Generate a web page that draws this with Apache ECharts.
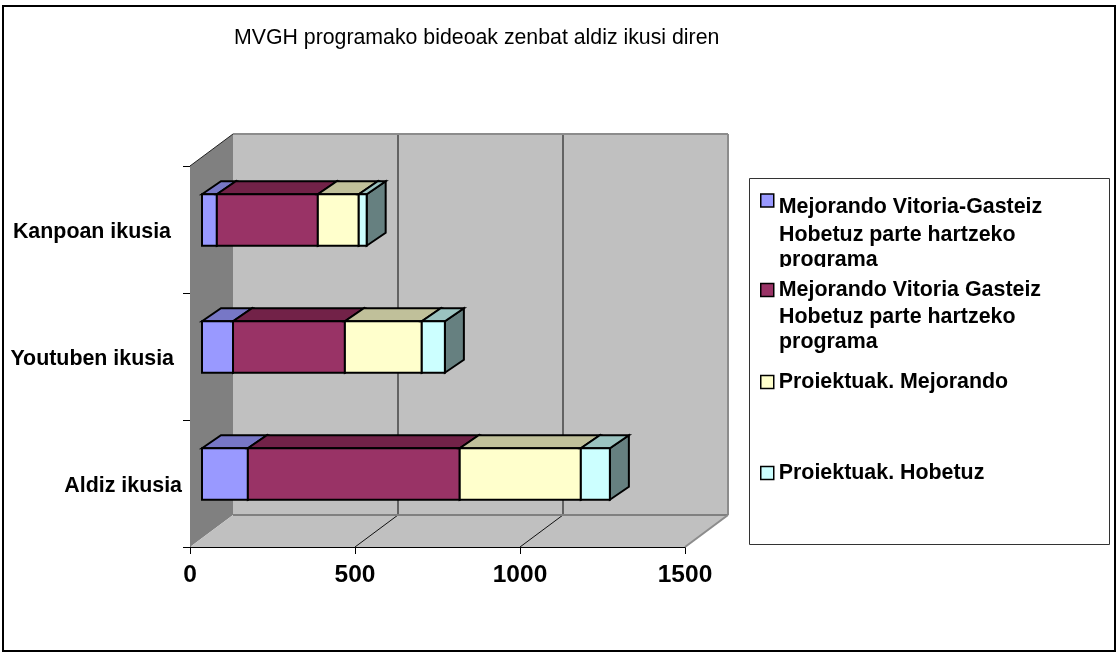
<!DOCTYPE html>
<html>
<head>
<meta charset="utf-8">
<title>MVGH programako bideoak</title>
<script src="https://cdn.jsdelivr.net/npm/echarts@6/dist/echarts.min.js"></script>
<style>
  html, body { margin: 0; padding: 0; background: #fff; }
  #chart { width: 1117px; height: 653px; }
</style>
</head>
<body>
<div id="chart"></div>
<script>
// Datos
const categories = ['Aldiz ikusia', 'Youtuben ikusia', 'Kanpoan ikusia'];
const seriesNames = [
  'Mejorando Vitoria-Gasteiz Hobetuz parte hartzeko programa',
  'Mejorando Vitoria Gasteiz Hobetuz parte hartzeko programa',
  'Proiektuak. Mejorando',
  'Proiektuak. Hobetuz'
];
const vitoriaGuion = [139, 94, 45];
const vitoriaEspacio = [642, 339, 306];
const proiektuakMejorando = [367, 233, 124];
const proiektuakHobetuz = [88, 70, 24];
const xTicks = [0, 500, 1000, 1500];

const seriesValues = [vitoriaGuion, vitoriaEspacio, proiektuakMejorando, proiektuakHobetuz];
const frontColors = ['#9999FF', '#993366', '#FFFFCC', '#CCFFFF'];
const topColors = ['#7777C6', '#722248', '#C0C09A', '#9BC3C0'];
const sideColor = '#668080';
const fontFamily = '"Liberation Sans", Arial, sans-serif';

// Profundidad de las paredes y de las barras, en pixeles
const wallDx = 43, wallDy = -32;
const barDx = 19, barDy = -13;
const barThickness = 0.405;

function poly(points, fill, stroke, width) {
  return {
    type: 'polygon',
    shape: { points },
    style: { fill, stroke: stroke || null, lineWidth: width || 0 },
    silent: true
  };
}

function line(x1, y1, x2, y2, stroke, width) {
  return {
    type: 'line',
    shape: { x1, y1, x2, y2 },
    style: { stroke, lineWidth: width },
    silent: true
  };
}

// Paredes y suelo del grafico 3D
function renderWalls(params, api) {
  const c = params.coordSys;
  const l = c.x, r = c.x + c.width, t = c.y, b = c.y + c.height;
  const children = [
    poly([[l + wallDx, t + wallDy], [r + wallDx, t + wallDy], [r + wallDx, b + wallDy], [l + wallDx, b + wallDy]], '#C0C0C0'),
    poly([[l, t], [l + wallDx, t + wallDy], [l + wallDx, b + wallDy], [l, b]], '#808080'),
    poly([[l, b], [l + wallDx, b + wallDy], [r + wallDx, b + wallDy], [r, b]], '#C0C0C0')
  ];
  xTicks.slice(1, -1).forEach(v => {
    const x = api.coord([v, 0])[0];
    children.push(line(x + wallDx, t + wallDy, x + wallDx, b + wallDy, '#444444', 1.5));
    children.push(line(x, b, x + wallDx, b + wallDy, '#111111', 1));
  });
  children.push(line(l + wallDx, t + wallDy, r + wallDx, t + wallDy, '#8C8C8C', 2));
  children.push(line(r + wallDx, t + wallDy, r + wallDx, b + wallDy, '#8C8C8C', 2));
  children.push(line(l + wallDx, b + wallDy, r + wallDx, b + wallDy, '#808080', 2));
  children.push(line(r, b, r + wallDx, b + wallDy, '#8C8C8C', 2));
  children.push(line(l, t, l + wallDx, t + wallDy, '#222222', 1));
  return { type: 'group', children };
}

// Un tramo de barra apilada: cara frontal, superior y lateral
function renderSegment(seriesIndex) {
  return function (params, api) {
    const cat = api.value(0);
    const start = api.coord([api.value(1), cat]);
    const end = api.coord([api.value(2), cat]);
    const h = api.size([0, 1])[1] * barThickness;
    const ox = (wallDx - barDx) / 2, oy = (wallDy - barDy) / 2;
    const x1 = start[0] + ox, x2 = end[0] + ox;
    const y1 = start[1] + oy - h / 2, y2 = y1 + h;
    return {
      type: 'group',
      children: [
        poly([[x2, y1], [x2 + barDx, y1 + barDy], [x2 + barDx, y2 + barDy], [x2, y2]], sideColor, '#000', 2),
        poly([[x1, y1], [x1 + barDx, y1 + barDy], [x2 + barDx, y1 + barDy], [x2, y1]], topColors[seriesIndex], '#000', 2),
        poly([[x1, y1], [x2, y1], [x2, y2], [x1, y2]], frontColors[seriesIndex], '#000', 2)
      ]
    };
  };
}

// Filas [categoria, inicio, fin] acumuladas por serie
function stackedRows(seriesIndex) {
  return categories.map((_, i) => {
    let start = 0;
    for (let s = 0; s < seriesIndex; s++) start += seriesValues[s][i];
    return [i, start, start + seriesValues[seriesIndex][i]];
  });
}

const legendTops = [183, 279, 371, 462];
const legendFirstLines = [
  '\nMejorando Vitoria-Gasteiz',
  'Mejorando Vitoria Gasteiz',
  'Proiektuak. Mejorando',
  'Proiektuak. Hobetuz'
];
const labelPads = [0, 8, 11];

function richLabel(pad) {
  return { fontSize: 21.4, fontWeight: 'bold', color: '#000', fontFamily, padding: [5, pad, 0, 0] };
}

function legendNote(top) {
  return {
    type: 'text', z: 10, left: 779, top,
    style: { text: 'Hobetuz parte hartzeko\nprograma', fontSize: 21.4, fontWeight: 'bold', lineHeight: 25, fill: '#000', fontFamily }
  };
}

const chart = echarts.init(document.getElementById('chart'));

const option = {
  animation: false,
  backgroundColor: '#fff',
  textStyle: { fontFamily, color: '#000' },
  title: {
    text: 'MVGH programako bideoak zenbat aldiz ikusi diren',
    left: 234,
    top: 28,
    padding: 0,
    textStyle: { fontSize: 21.3, fontWeight: 'normal', color: '#000', fontFamily }
  },
  grid: { left: 190, top: 166, width: 495, height: 381 },
  xAxis: {
    type: 'value',
    min: 0,
    max: 1500,
    interval: 500,
    splitLine: { show: false },
    axisLine: { show: true, lineStyle: { color: '#000', width: 1 } },
    axisTick: { show: true, length: 7, lineStyle: { color: '#000' } },
    axisLabel: { fontSize: 24.5, fontWeight: 'bold', color: '#000', margin: 16, formatter: v => String(v) }
  },
  yAxis: {
    type: 'category',
    data: categories,
    axisLine: { show: true, onZero: false, lineStyle: { color: '#000', width: 1 } },
    axisTick: { show: true, length: 7, lineStyle: { color: '#000' } },
    axisLabel: {
      margin: 8,
      formatter: (value, index) => `{l${index}|${value}}`,
      rich: { l0: richLabel(labelPads[0]), l1: richLabel(labelPads[1]), l2: richLabel(labelPads[2]) }
    }
  },
  legend: seriesNames.map((name, i) => ({
    left: 760,
    top: legendTops[i],
    padding: 0,
    orient: 'vertical',
    selectedMode: false,
    itemWidth: 13,
    itemHeight: 13,
    itemGap: 0,
    data: [{ name, icon: 'rect' }],
    itemStyle: { borderColor: '#000', borderWidth: 1.5 },
    formatter: () => legendFirstLines[i],
    textStyle: { fontSize: 21.4, fontWeight: 'bold', color: '#000', fontFamily, lineHeight: i === 0 ? 14 : 22 }
  })),
  graphic: [
    // Marco exterior y recuadro de la leyenda
    { type: 'rect', z: -1, shape: { x: 3, y: 6, width: 1112, height: 645 }, style: { fill: '#fff', stroke: '#000', lineWidth: 2 } },
    { type: 'rect', z: -1, shape: { x: 749.5, y: 178.5, width: 360, height: 366 }, style: { fill: '#fff', stroke: '#333', lineWidth: 1 } },
    legendNote(223),
    { type: 'rect', z: 11, shape: { x: 779, y: 267, width: 110, height: 7 }, style: { fill: '#fff' } },
    legendNote(305)
  ],
  series: [
    {
      type: 'custom',
      name: 'walls',
      silent: true,
      coordinateSystem: 'cartesian2d',
      renderItem: renderWalls,
      data: [[0, 0]],
      encode: { x: 0, y: 1 },
      z: 1
    }
  ].concat(seriesNames.map((name, i) => ({
    type: 'custom',
    name,
    coordinateSystem: 'cartesian2d',
    itemStyle: { color: frontColors[i] },
    renderItem: renderSegment(i),
    data: stackedRows(i),
    encode: { x: [1, 2], y: 0 },
    z: 2
  })))
};

chart.setOption(option);
</script>
</body>
</html>
